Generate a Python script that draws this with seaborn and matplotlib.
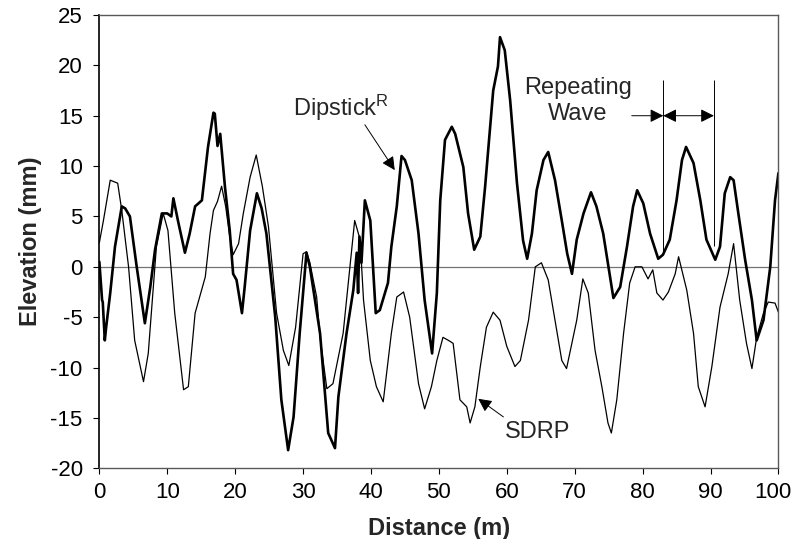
import numpy as np
import pandas as pd
import matplotlib
matplotlib.use("Agg")
import matplotlib.pyplot as plt
import matplotlib.transforms as mtransforms
import seaborn as sns

sns.set_style("white")
plt.rcParams['font.family'] = ['Liberation Sans', 'DejaVu Sans']
plt.rcParams['mathtext.default'] = 'regular'
plt.rcParams['axes.unicode_minus'] = False

# Dipstick profile (thick line)
dip_x = [0, 0.4, 0.5, 0.8, 1.0, 1.6, 2.3, 3.3, 3.8, 4.5, 5.5, 6.7, 7.5, 8.2, 9.2,
         10.0, 10.6, 10.9, 11.6, 12.6, 13.3, 14.1, 15.1, 16.0, 16.8, 17.0, 17.4,
         17.8, 18.5, 19.2, 19.7, 20.2, 21.0, 21.4, 22.2, 23.2, 23.9, 24.6, 25.9,
         26.8, 27.8, 28.6, 29.5, 30.5, 31.0, 32.5, 33.7, 34.7, 35.2, 36.4, 37.4,
         37.9, 38.1, 38.3, 38.6, 39.1, 39.9, 40.7, 41.3, 42.5, 43.0, 43.8, 44.5,
         45.0, 46.0, 47.0, 47.9, 49.0, 49.7, 50.2, 50.9, 51.9, 52.4, 53.6, 54.3,
         55.2, 56.1, 56.8, 58.0, 58.7, 59.0, 59.7, 60.5, 61.5, 62.4, 63.0, 63.7,
         64.4, 65.4, 66.1, 67.1, 68.1, 68.9, 69.6, 70.3, 71.3, 72.4, 73.2, 74.2,
         75.2, 75.7, 76.7, 77.7, 78.6, 79.2, 80.1, 81.1, 82.3, 83.0, 84.0, 85.0,
         85.8, 86.4, 87.5, 88.5, 89.4, 90.7, 91.4, 92.1, 92.9, 93.4, 94.1, 95.1,
         96.1, 96.8, 97.8, 98.8, 99.5, 100]
dip_y = [0.5, -3.3, -3.5, -7.3, -6.0, -2.6, 2.0, 6.0, 5.8, 5.0, 0.0, -5.6, -2.0, 1.7, 5.3,
         5.3, 5.0, 6.8, 4.5, 1.4, 3.3, 6.0, 6.6, 11.9, 15.3, 15.2, 12.0,
         13.2, 7.9, 3.6, -0.7, -1.3, -4.6, -2.0, 3.6, 7.3, 5.8, 3.3, -5.0,
         -13.2, -18.2, -14.9, -6.6, 1.4, 0.0, -6.6, -16.5, -18.0, -12.9, -6.6, -2.3,
         1.4, -2.6, 3.0, 0.4, 6.6, 4.6, -4.6, -4.3, -1.6, 2.0, 6.0, 11.0,
         10.6, 8.6, 3.3, -3.3, -8.6, -2.6, 6.6, 12.6, 13.9, 13.2, 9.9, 5.3,
         1.7, 3.0, 7.9, 17.5, 19.9, 22.8, 21.5, 16.5, 8.3, 2.6, 0.8, 3.3,
         7.6, 10.6, 11.4, 8.6, 4.6, 1.3, -0.7, 2.7, 5.3, 7.4, 6.0, 3.3,
         -1.0, -3.1, -2.0, 2.0, 6.0, 7.6, 6.3, 3.3, 0.8, 1.2, 2.7, 6.6,
         10.6, 11.9, 10.3, 6.6, 2.7, 0.7, 2.0, 7.3, 8.9, 8.6, 5.3, 0.7,
         -3.3, -7.3, -5.3, 0.0, 6.6, 9.3]

# SDRP profile (thin line)
sdrp_x = [0, 0.6, 1.6, 2.7, 3.3, 4.3, 5.2, 6.5, 7.2, 8.4, 9.4, 10.1, 11.1, 12.4,
          13.1, 14.1, 15.6, 16.3, 16.8, 17.4, 18.0, 18.6, 19.2, 19.7, 20.5, 21.2,
          22.2, 23.1, 24.0, 24.9, 26.1, 27.1, 27.9, 28.9, 30.0, 30.5, 31.0, 32.0,
          32.5, 33.5, 34.4, 35.9, 36.9, 37.6, 38.4, 38.9, 39.9, 40.8, 41.8, 43.0,
          43.8, 44.8, 45.7, 47.0, 47.9, 48.9, 49.7, 50.6, 51.4, 52.1, 53.1, 54.1,
          54.6, 55.3, 56.1, 57.0, 58.0, 59.0, 60.0, 61.2, 62.0, 63.2, 64.2, 65.1,
          66.1, 67.1, 68.1, 68.8, 70.3, 71.2, 72.0, 73.0, 74.0, 74.9, 75.4, 76.2,
          77.2, 78.1, 78.9, 79.9, 80.8, 81.5, 82.1, 83.0, 83.8, 84.8, 85.3, 86.5,
          87.5, 88.2, 89.2, 90.2, 91.4, 92.6, 93.4, 94.3, 95.3, 96.1, 96.8, 97.8,
          98.5, 99.5, 100]
sdrp_y = [2.4, 4.6, 8.6, 8.3, 5.6, 0.0, -7.3, -11.4, -8.6, 2.0, 5.3, 3.6, -4.6, -12.2,
          -11.9, -4.6, -1.0, 3.3, 5.6, 6.5, 8.0, 6.0, 3.0, 1.2, 2.3, 5.3,
          8.9, 11.1, 8.0, 4.0, -4.6, -8.3, -9.8, -6.0, 1.3, 1.5, 0.4, -3.0,
          -7.0, -12.1, -11.6, -6.6, 0.0, 4.6, 2.7, -3.3, -9.3, -11.9, -13.4, -6.6,
          -3.0, -2.5, -5.0, -11.6, -14.1, -11.9, -9.3, -7.0, -7.3, -7.6, -13.2, -13.9,
          -15.5, -13.9, -9.9, -6.0, -4.5, -5.3, -7.9, -9.9, -9.3, -5.3, 0.0, 0.4,
          -1.3, -5.3, -9.3, -10.1, -5.3, -1.2, -2.6, -8.3, -11.9, -15.5, -16.5, -13.2,
          -6.6, -1.6, 0.0, 0.0, -1.2, -0.3, -2.6, -3.3, -2.5, -0.7, 1.0, -2.3,
          -6.6, -11.9, -13.9, -9.9, -4.0, -0.7, 2.3, -3.3, -7.6, -10.1, -7.0, -4.6,
          -3.5, -3.6, -4.5]

x_ticks = list(range(0, 101, 10))
y_ticks = list(range(-20, 26, 5))
wave_start = 83.05
wave_end = 90.5

df_dip = pd.DataFrame({'dist': dip_x, 'elev': dip_y})
df_sdrp = pd.DataFrame({'dist': sdrp_x, 'elev': sdrp_y})

fig = plt.figure(figsize=(7.93, 5.39), dpi=100)
ax = fig.add_axes([0.1253, 0.1312, 0.8563, 0.841])

ax.axhline(0, color='0.45', lw=0.9, zorder=1)
sns.lineplot(data=df_sdrp, x='dist', y='elev', ax=ax, color='black', lw=0.9,
             sort=False, estimator=None)
sns.lineplot(data=df_dip, x='dist', y='elev', ax=ax, color='black', lw=1.9,
             sort=False, estimator=None)

ax.set_xlim(0, 100)
ax.set_ylim(-20, 25)
ax.set_xticks(x_ticks)
ax.set_yticks(y_ticks)
ax.tick_params(axis='both', direction='out', length=4, width=0.8, labelsize=16,
               colors='black', left=True, bottom=True)
ax.tick_params(axis='y', pad=8)
ax.tick_params(axis='x', pad=6)
tick_fonts = ['Liberation Sans Narrow', 'Liberation Sans', 'DejaVu Sans']
for lbl in ax.get_xticklabels() + ax.get_yticklabels():
    lbl.set_family(tick_fonts)
# last x label sits against the figure edge, nudge it left a little
last = ax.get_xticklabels()[-1]
last.set_transform(last.get_transform() +
                   mtransforms.ScaledTranslation(-4 / 72, 0, fig.dpi_scale_trans))

ax.set_xlabel('Distance (m)', fontsize=17, fontweight='bold', labelpad=10)
ax.set_ylabel('Elevation (mm)', fontsize=17, fontweight='bold', labelpad=6)

for side in ['top', 'right', 'bottom']:
    ax.spines[side].set_linestyle((0, (1, 1)))
    ax.spines[side].set_color('0.35')
    ax.spines[side].set_linewidth(1.0)
ax.spines['left'].set_color('black')
ax.spines['left'].set_linewidth(1.2)

# annotations
ax.text(28.5, 15.8, 'Dipstick$^{R}$', fontsize=17, ha='left', va='center')
ax.annotate('', xy=(43.5, 9.6), xytext=(39.1, 14.1),
            arrowprops=dict(arrowstyle='-|>', color='black', lw=0.7,
                            mutation_scale=20, shrinkA=0, shrinkB=0))
ax.text(64.6, -16.4, 'SDRP', fontsize=17, ha='center', va='center')
ax.annotate('', xy=(55.8, -13.1), xytext=(59.5, -14.9),
            arrowprops=dict(arrowstyle='-|>', color='black', lw=0.7,
                            mutation_scale=20, shrinkA=0, shrinkB=0))
ax.text(70.5, 16.45, 'Repeating\nWave', fontsize=17, ha='center', va='center',
        linespacing=1.2)
ax.vlines(wave_start, 1.5, 18.5, color='black', lw=0.7)
ax.vlines(wave_end, 2.1, 18.5, color='black', lw=0.7)
ax.annotate('', xy=(wave_start, 15.0), xytext=(78.4, 15.0),
            arrowprops=dict(arrowstyle='-|>', color='black', lw=0.7,
                            mutation_scale=20, shrinkA=0, shrinkB=0))
ax.annotate('', xy=(wave_end, 15.0), xytext=(wave_start, 15.0),
            arrowprops=dict(arrowstyle='<|-|>', color='black', lw=0.7,
                            mutation_scale=20, shrinkA=0, shrinkB=0))

fig.savefig('out.png', dpi=100)
